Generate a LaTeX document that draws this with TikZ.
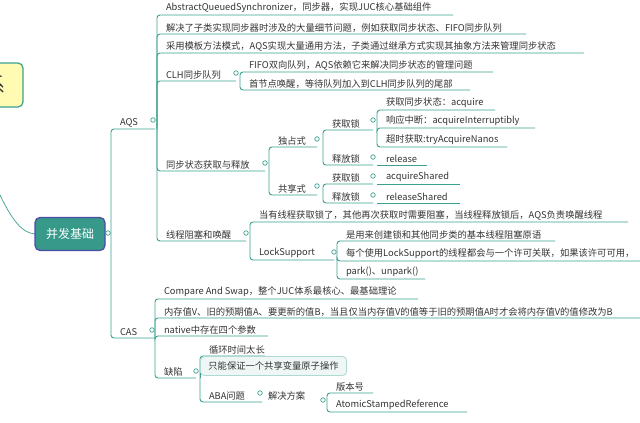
\documentclass[tikz,border=0pt]{standalone}
\usepackage{fontspec}
\setmainfont{Noto Sans CJK SC}
\definecolor{tl}{HTML}{3AA191}
\definecolor{txt}{HTML}{333333}
\begin{document}
\begin{tikzpicture}[x=1pt,y=-1pt,
  ln/.style={draw=tl,line width=0.9pt,rounded corners=3pt},
  lbl/.style={anchor=south west,inner sep=0pt,outer sep=0pt,text=txt,font=\fontsize{9.3}{10}\selectfont,yshift=2pt},
  dot/.style={circle,draw=tl,fill=white,line width=0.7pt,inner sep=0pt,minimum size=4.5pt}]
\useasboundingbox (0,0) rectangle (640,423);
% leaf: name, vx, parent y, y, x-end, text
\newcommand\leaf[6]{\draw[ln] (#2,#3) -- (#2,#4) -- (#5,#4); \node[lbl] (#1) at (#2+9,#4) {#6};}
\newcommand\pdot[3]{\node[dot] (#1) at (#2,#3) {};}
% left remnant
\begin{scope}
\clip (0,0) rectangle (640,423);
\draw[draw=tl,line width=1.2pt,fill=yellow!30,rounded corners=5pt] (-30,63) rectangle (23,107);
\node[text=txt,font=\fontsize{20}{20}\selectfont] (rem) at (-4,85) {系};
\draw[tl,line width=0.7pt] (0,195) .. controls (12,220) and (22,233) .. (35,234);
\end{scope}
\node[draw=blue!50!black!70,line width=1.2pt,fill=tl!95!black,rounded corners=5pt,minimum width=70pt,minimum height=33pt,text=white,font=\fontsize{12}{12}\selectfont] (root) at (70,234) {并发基础};
\pdot{rd}{108}{233}
% AQS
\draw[ln] (111,233) -- (111,129) -- (155,129); \node[lbl] (aqs) at (120,129) {AQS};
\draw[ln] (111,233) -- (111,338) -- (155,338); \node[lbl] (cas) at (120,338) {CAS};
\leaf{a1}{157}{129}{15}{453}{AbstractQueuedSynchronizer，同步器，实现JUC核心基础组件}
\leaf{a2}{157}{129}{34}{526}{解决了子类实现同步器时涉及的大量细节问题，例如获取同步状态、FIFO同步队列}
\leaf{a3}{157}{129}{53}{584}{采用模板方法模式，AQS实现大量通用方法，子类通过继承方式实现其抽象方法来管理同步状态}
\leaf{a4}{157}{129}{81}{236}{CLH同步队列}
\leaf{a5}{157}{129}{171}{265}{同步状态获取与释放}
\leaf{a6}{157}{129}{241}{246}{线程阻塞和唤醒}
\pdot{aqsd}{153}{120}
% CLH
\leaf{c1}{240}{81}{72}{493}{FIFO双向队列，AQS依赖它来解决同步状态的管理问题}
\leaf{c2}{240}{81}{90}{470}{首节点唤醒，等待队列加入到CLH同步队列的尾部}
\pdot{a4d}{236}{73}
% sync
\leaf{s1}{269}{171}{147}{317}{独占式}
\leaf{s2}{269}{171}{195}{317}{共享式}
\pdot{a5d}{265}{163}
\leaf{e1}{323}{147}{130}{373}{获取锁}
\leaf{e2}{323}{147}{165}{373}{释放锁}
\pdot{s1d}{317}{139}
\leaf{g1}{377}{130}{110}{495}{获取同步状态：acquire}
\leaf{g2}{377}{130}{128}{535}{响应中断：acquireInterruptibly}
\leaf{g3}{377}{130}{147}{507}{超时获取:tryAcquireNanos}
\pdot{e1d}{373}{120}
\draw[ln] (377,165) -- (427,165); \node[lbl] (rel) at (386,165) {release};
\pdot{e2d}{373}{157}
\leaf{h1}{323}{195}{184}{373}{获取锁}
\leaf{h2}{323}{195}{203}{373}{释放锁}
\pdot{s2d}{317}{186}
\draw[ln] (377,184) -- (460,184); \node[lbl] (acs) at (386,184) {acquireShared};
\draw[ln] (377,203) -- (460,203); \node[lbl] (rls) at (386,203) {releaseShared};
\pdot{h1d}{373}{176}
\pdot{h2d}{373}{195}
% block
\leaf{b1}{250}{241}{222}{628}{当有线程获取锁了，其他再次获取时需要阻塞，当线程释放锁后，AQS负责唤醒线程}
\leaf{b2}{250}{241}{260}{334}{LockSupport}
\pdot{a6d}{246}{233}
\leaf{l1}{337}{260}{241}{555}{是用来创建锁和其他同步类的基本线程阻塞原语}
\leaf{l2}{337}{260}{261}{645}{每个使用LockSupport的线程都会与一个许可关联，如果该许可可用，}
\leaf{l3}{337}{260}{279}{425}{park()、unpark()}
\pdot{b2d}{334}{252}
% CAS
\leaf{k1}{155}{338}{299}{418}{Compare And Swap，整个JUC体系最核心、最基础理论}
\leaf{k2}{155}{338}{318}{645}{内存值V、旧的预期值A、要更新的值B，当且仅当内存值V的值等于旧的预期值A时才会将内存值V的值修改为B}
\leaf{k3}{155}{338}{336}{268}{native中存在四个参数}
\leaf{k4}{155}{338}{378}{196}{缺陷}
\pdot{casd}{152}{330}
\leaf{d1}{200}{378}{356}{265}{循环时间太长}
\draw[ln] (200,378) -- (200,366);
\node[draw=tl!40,line width=0.8pt,fill=tl!8,rounded corners=4pt,anchor=west,minimum height=19pt,inner xsep=8pt,text=txt,font=\fontsize{9.3}{10}\selectfont] (d2) at (200,366) {只能保证一个共享变量原子操作};
\leaf{d3}{200}{378}{402}{262}{ABA问题}
\pdot{k4d}{196}{371}
\pdot{d3d}{260}{393}
\node[lbl] (sol) at (268,402) {解决方案};
\leaf{v1}{327}{402}{393}{373}{版本号}
\leaf{v2}{327}{402}{412}{467}{AtomicStampedReference}
\pdot{sold}{323}{400}
\end{tikzpicture}
\end{document}
